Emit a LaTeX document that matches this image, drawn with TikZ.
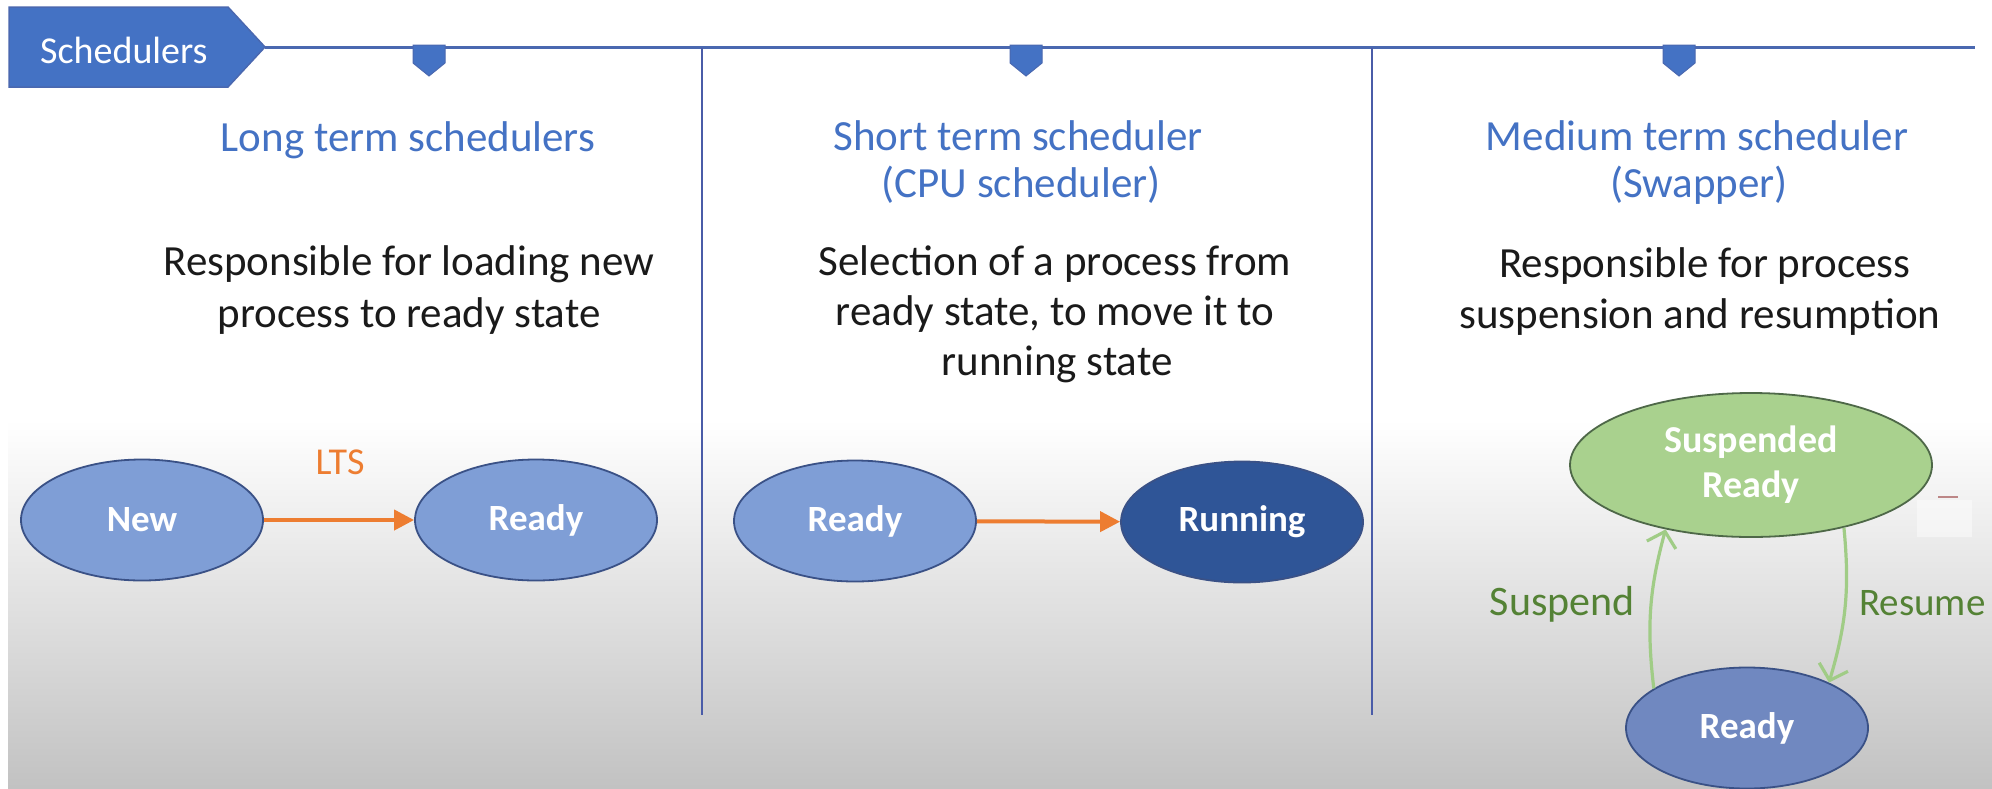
\documentclass[tikz,border=0pt]{standalone}
\usepackage{fontspec}
\setmainfont{Carlito}
\usetikzlibrary{shapes.geometric,arrows.meta}

\definecolor{headblue}{HTML}{4472C4}
\definecolor{rulecol}{HTML}{4A68B0}
\definecolor{divcol}{HTML}{4A5CA8}
\definecolor{stlight}{HTML}{7F9ED6}
\definecolor{stgray}{HTML}{7088C0}
\definecolor{stdark}{HTML}{2F5597}
\definecolor{stborder}{HTML}{3A5186}
\definecolor{susfill}{HTML}{A9D18E}
\definecolor{susborder}{HTML}{4E6848}
\definecolor{ltsorange}{HTML}{ED7D31}
\definecolor{garrowcol}{HTML}{A0CC86}
\definecolor{glabel}{HTML}{548235}
\definecolor{bggray}{HTML}{C2C2C2}
\definecolor{bodyink}{HTML}{1A1A1A}

\begin{document}
\begin{tikzpicture}[x=1pt,y=-1pt,
  headline/.style={anchor=base, inner sep=0pt, text=headblue,
    font=\fontsize{43}{47}\selectfont},
  bodyline/.style={anchor=base, inner sep=0pt, text=bodyink,
    font=\fontsize{43}{52}\selectfont},
  state/.style={ellipse, draw=stborder, line width=1.8pt, inner sep=0pt,
    text=white, font=\fontsize{37}{44}\bfseries\selectfont},
  smallstate/.style={state, minimum width=242pt, minimum height=121pt},
  ltsarrow/.style={-{Triangle[length=20pt,width=20pt]}, line width=4pt, ltsorange},
  swaparrow/.style={-{Straight Barb[length=14pt,width=30pt]}, line width=3.2pt, garrowcol},
  swaplabel/.style={anchor=base, inner sep=0pt, text=glabel},
  divider/.style={draw=divcol, line width=2.2pt},
  marker/.style={fill=headblue, draw=rulecol, line width=1pt},
]
% canvas and backdrop
\useasboundingbox (0,0) rectangle (1992,788);
\fill[white] (0,0) rectangle (1992,788);
\shade[top color=white, bottom color=bggray] (8,420) rectangle (1992,788);

% title tab and the rule running from its tip
\filldraw[fill=headblue, draw=rulecol, line width=1.5pt]
  (9,7) -- (228,7) -- (265,47) -- (228,87) -- (9,87) -- cycle;
\coordinate (tabtip) at (265,47);
\coordinate (ruleend) at (1975,47);
\node[anchor=base west, inner sep=0pt, text=white,
  font=\fontsize{38}{40}\selectfont] (tabtext) at (40,63) {Schedulers};
\draw[draw=rulecol, line width=3pt] (tabtip) -- (ruleend);

% markers hanging from the rule
\foreach \mx in {429,1026,1679}
  \filldraw[marker] (\mx-16,45) -- (\mx+16,45) -- (\mx+16,63) -- (\mx,76)
    -- (\mx-16,63) -- cycle;

% column dividers
\draw[divider] (702,48) -- (702,715);
\draw[divider] (1372,48) -- (1372,715);

% column 1: long term scheduler
\node[headline] (h1) at (408,151) {Long term schedulers};
\node[bodyline] (b1a) at (409,275) {Responsible for loading new};
\node[bodyline] (b1b) at (409,327) {process to ready state};
\node[smallstate, fill=stlight] (new) at (142,520) {New};
\node[smallstate, fill=stlight] (rdy1) at (536,520) {Ready};
\draw[ltsarrow] (new) -- (rdy1);
\node[anchor=base, inner sep=0pt, text=ltsorange,
  font=\fontsize{38}{40}\selectfont] (lts) at (340,474) {LTS};

% column 2: short term scheduler
\node[headline] (h2a) at (1018,150) {Short term scheduler};
\node[headline] (h2b) at (1021,197) {(CPU scheduler)};
\node[bodyline] (b2a) at (1055,275) {Selection of a process from};
\node[bodyline] (b2b) at (1055,325) {ready state, to move it to};
\node[bodyline] (b2c) at (1057,375) {running state};
\node[smallstate, fill=stlight] (rdy2) at (855,521) {Ready};
\node[smallstate, fill=stdark] (run) at (1242,522) {Running};
\draw[ltsarrow] (rdy2) -- (run);

% column 3: medium term scheduler
\node[headline] (h3a) at (1697,150) {Medium term scheduler};
\node[headline] (h3b) at (1699,197) {(Swapper)};
\node[bodyline] (b3a) at (1705,277) {Responsible for process};
\node[bodyline] (b3b) at (1700,328) {suspension and resumption};
\node[state, fill=susfill, draw=susborder, align=center,
  minimum width=362pt, minimum height=144pt,
  font=\fontsize{38}{45}\bfseries\selectfont] (susp) at (1751,465) {Suspended\\Ready};
\node[smallstate, fill=stgray] (rdy3) at (1747,728) {Ready};
\draw[swaparrow] (rdy3.157) to[bend left=11] (susp.217);
\draw[swaparrow] (susp.326) to[bend left=11] (rdy3.29);
\node[swaplabel, anchor=base east, font=\fontsize{42}{44}\selectfont]
  (lsusp) at (1635,615) {Suspend};
\node[swaplabel, anchor=base west, font=\fontsize{39}{44}\selectfont]
  (lres) at (1859,615) {Resume};

% faint stray mark at the right edge
\fill[white, opacity=0.45] (1917,500) rectangle (1972,537);
\draw[draw=red!30!gray, opacity=0.7, line width=2pt] (1938,497) -- (1958,497);
\end{tikzpicture}
\end{document}
